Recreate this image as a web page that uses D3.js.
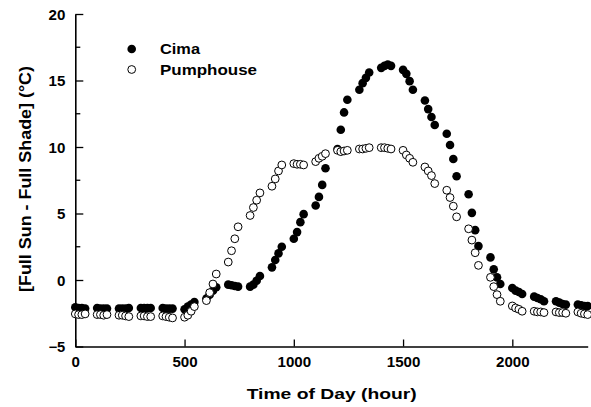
<!DOCTYPE html>
<html>
<head>
<meta charset="utf-8">
<script src="https://cdn.jsdelivr.net/npm/d3@7"></script>
<style>
  body { margin: 0; background: #fff; }
  svg text { font-family: Arial, "Liberation Sans", sans-serif; font-weight: bold; fill: #000; }
</style>
</head>
<body>
<svg width="591" height="407"></svg>
<script>
// time of day, HHMM, every 15 minutes
var times = [
  0, 15, 30, 45, 100, 115, 130, 145, 200, 215, 230, 245,
  300, 315, 330, 345, 400, 415, 430, 445, 500, 515, 530, 545,
  600, 615, 630, 645, 700, 715, 730, 745, 800, 815, 830, 845,
  900, 915, 930, 945, 1000, 1015, 1030, 1045, 1100, 1115, 1130, 1145,
  1200, 1215, 1230, 1245, 1300, 1315, 1330, 1345, 1400, 1415, 1430, 1445,
  1500, 1515, 1530, 1545, 1600, 1615, 1630, 1645, 1700, 1715, 1730, 1745,
  1800, 1815, 1830, 1845, 1900, 1915, 1930, 1945, 2000, 2015, 2030, 2045,
  2100, 2115, 2130, 2145, 2200, 2215, 2230, 2245, 2300, 2315, 2330, 2345
];

var cima = [
  -2.05, -2.1, -2.1, -2.15, -2.1, -2.15, -2.15, -2.15, -2.15, -2.15, -2.15, -2.1,
  -2.1, -2.1, -2.1, -2.1, -2.1, -2.15, -2.15, -2.15, -2.2, -2.0, -1.85, -1.65,
  -1.4, -1.1, -0.8, -0.55, -0.35, -0.4, -0.45, -0.5, -0.5, -0.35, -0.05, 0.3,
  0.95, 1.5, 2.0, 2.5, 3.1, 3.6, 4.35, 4.95, 5.6, 6.25, 7.15, 8.4,
  9.85, 11.3, 12.6, 13.55, 14.3, 14.8, 15.2, 15.6, 15.95, 16.1, 16.2, 16.1,
  15.8, 15.5, 14.95, 14.3, 13.5, 12.85, 12.25, 11.65, 11.0, 10.15, 9.1, 7.8,
  6.45, 5.05, 3.75, 2.55, 1.7, 0.8, 0.2, -0.3, -0.6, -0.8, -0.9, -1.05,
  -1.25, -1.35, -1.45, -1.6, -1.6, -1.7, -1.8, -1.85, -1.85, -1.9, -1.95, -1.95
];

var pumphouse = [
  -2.55, -2.6, -2.6, -2.55, -2.6, -2.6, -2.65, -2.6, -2.65, -2.65, -2.7, -2.75,
  -2.7, -2.7, -2.75, -2.75, -2.7, -2.75, -2.8, -2.85, -2.8, -2.65, -2.35, -2.0,
  -1.55, -0.95, -0.3, 0.45, 1.35, 2.2, 3.1, 4.0, 4.85, 5.45, 6.0, 6.55,
  7.05, 7.6, 8.2, 8.65, 8.75, 8.7, 8.7, 8.65, 8.9, 9.15, 9.3, 9.5,
  9.75, 9.65, 9.7, 9.75, 9.85, 9.85, 9.9, 9.95, 9.95, 9.95, 9.9, 9.85,
  9.75, 9.4, 9.15, 8.85, 8.5, 8.2, 7.85, 7.25, 6.75, 6.2, 5.55, 4.75,
  3.85, 3.0, 2.05, 1.1, 0.2, -0.5, -1.1, -1.6, -1.95, -2.1, -2.2, -2.35,
  -2.35, -2.4, -2.4, -2.45, -2.4, -2.45, -2.45, -2.5, -2.4, -2.5, -2.55, -2.6
];

var xTicks = [0, 500, 1000, 1500, 2000];
var yTicks = [-5, 0, 5, 10, 15, 20];
var yMinorTicks = [-2.5, 2.5, 7.5, 12.5, 17.5];
var seriesNames = ["Cima", "Pumphouse"];

var svg = d3.select("svg");

var x = d3.scaleLinear().domain([0, 2345]).range([75.3, 587.7]);
var y = d3.scaleLinear().domain([-5, 20]).range([346.5, 14]);

// axes, ticks pointing inward
var xAxis = d3.axisBottom(x).tickValues(xTicks).tickFormat(d3.format("d"))
    .tickSizeInner(-7).tickSizeOuter(0).tickPadding(11);
var yAxis = d3.axisLeft(y).tickValues(yTicks).tickFormat(d3.format("d"))
    .tickSizeInner(-8).tickSizeOuter(0).tickPadding(10);

var gx = svg.append("g")
    .attr("transform", "translate(0," + y(-5) + ")")
    .call(xAxis);
var gy = svg.append("g")
    .attr("transform", "translate(" + x(0) + ",0)")
    .call(yAxis);

gy.selectAll(".minor")
    .data(yMinorTicks)
    .enter()
    .append("line")
    .attr("class", "minor")
    .attr("x1", 0)
    .attr("x2", 5)
    .attr("y1", d => y(d))
    .attr("y2", d => y(d))
    .attr("stroke", "#000")
    .attr("stroke-width", 1.3);

[gx, gy].forEach(function(g) {
  g.select(".domain").attr("stroke", "#000").attr("stroke-width", 1.6);
  g.selectAll(".tick line").attr("stroke", "#000").attr("stroke-width", 1.3);
  g.selectAll(".tick text")
    .attr("font-size", 14)
    .attr("font-family", "Arial, 'Liberation Sans', sans-serif")
    .attr("font-weight", "bold")
    .attr("fill", "#000")
    .attr("textLength", function() { return this.textContent.length * 8.4; })
    .attr("lengthAdjust", "spacingAndGlyphs");
});
gy.selectAll(".tick text").attr("dy", "0.36em");

// axis titles
svg.append("text")
    .attr("x", 331.7)
    .attr("y", 399)
    .attr("text-anchor", "middle")
    .attr("font-size", 15.5)
    .attr("textLength", 170)
    .attr("lengthAdjust", "spacingAndGlyphs")
    .text("Time of Day (hour)");

svg.append("text")
    .attr("transform", "translate(31,179) rotate(-90)")
    .attr("text-anchor", "middle")
    .attr("font-size", 16)
    .attr("textLength", 226)
    .attr("lengthAdjust", "spacingAndGlyphs")
    .text("[Full Sun - Full Shade] (°C)");

// points
var cimaPts = times.map((t, i) => ({ t: t, v: cima[i] }));
var pumpPts = times.map((t, i) => ({ t: t, v: pumphouse[i] }));

svg.append("g")
  .selectAll("circle")
  .data(cimaPts)
  .enter()
  .append("circle")
  .attr("cx", d => x(d.t))
  .attr("cy", d => y(d.v))
  .attr("r", 4.3)
  .attr("fill", "#000");

svg.append("g")
  .selectAll("circle")
  .data(pumpPts)
  .enter()
  .append("circle")
  .attr("cx", d => x(d.t))
  .attr("cy", d => y(d.v))
  .attr("r", 3.9)
  .attr("fill", "#fff")
  .attr("stroke", "#000")
  .attr("stroke-width", 1);

// legend
var legend = svg.append("g");
seriesNames.forEach(function(name, i) {
  var ly = 49 + i * 20.5;
  legend.append("circle")
      .attr("cx", 131.7)
      .attr("cy", ly)
      .attr("r", i === 0 ? 4.3 : 3.9)
      .attr("fill", i === 0 ? "#000" : "#fff")
      .attr("stroke", "#000")
      .attr("stroke-width", i === 0 ? 0 : 1);
  legend.append("text")
      .attr("x", 160)
      .attr("y", ly + 5.2)
      .attr("font-size", 15)
      .attr("textLength", i === 0 ? 40 : 97)
      .attr("lengthAdjust", "spacingAndGlyphs")
      .text(name);
});
</script>
</body>
</html>
